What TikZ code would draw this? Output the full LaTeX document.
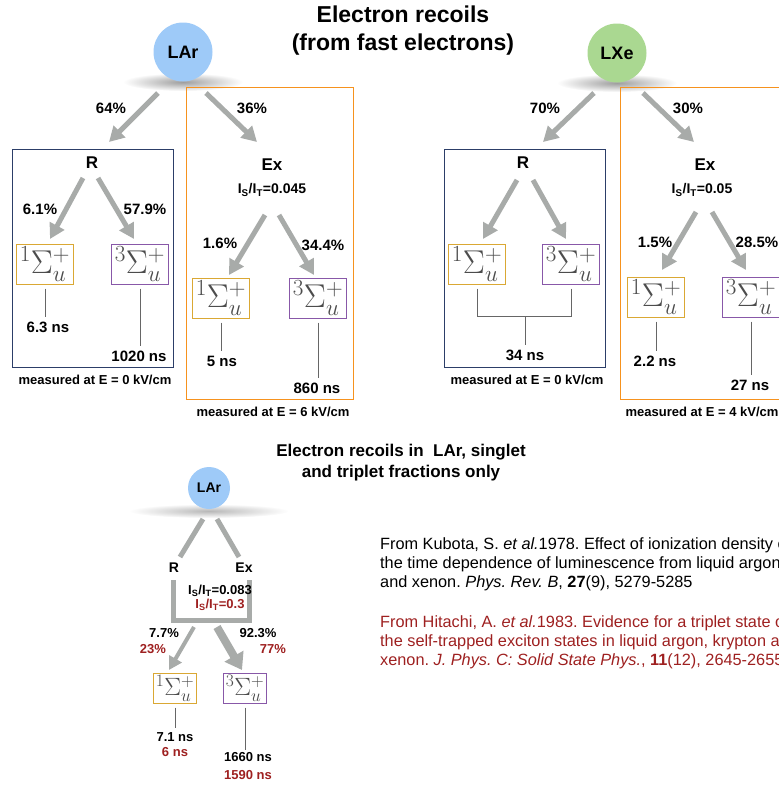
\RequirePackage{fix-cm}
\documentclass[tikz,border=0pt]{standalone}
\usepackage{fontspec}
\setmainfont{Liberation Sans}
\usetikzlibrary{arrows.meta}

\definecolor{larblue}{RGB}{158,202,248}
\definecolor{lxegreen}{RGB}{170,216,145}
\definecolor{arrgrey}{RGB}{168,171,169}
\definecolor{rnavy}{RGB}{44,62,104}
\definecolor{exorange}{RGB}{246,146,30}
\definecolor{sgold}{RGB}{218,168,52}
\definecolor{tpurple}{RGB}{136,88,168}
\definecolor{hitred}{RGB}{158,32,32}

\newcommand{\fsz}[2]{\fontsize{#1}{#2}\selectfont}
\newcommand{\singl}{${}^1\Sigma_u^+$}
\newcommand{\tripl}{${}^3\Sigma_u^+$}
\newcommand{\isit}{I\textsubscript{S}/I\textsubscript{T}}

\begin{document}
\begin{tikzpicture}[
		x=1pt, y=-1pt,
		bub/.style={circle, inner sep=0pt, minimum size=#1, font=\bfseries\fsz{18}{18}},
		shad/.style={inner color=black!38, outer color=white},
		grarr/.style={draw=arrgrey, line width=5pt, -{Triangle[length=15pt,width=16pt]}},
		grbar/.style={draw=arrgrey, line width=5pt},
		rfr/.style={draw=rnavy, line width=1pt},
		exfr/.style={draw=exorange, line width=1pt},
		lvl/.style={draw, line width=1pt, inner sep=0pt, minimum width=57, minimum height=40, text=black!70, font=\fsz{33}{33}},
		sgl/.style={lvl, draw=sgold},
		tpl/.style={lvl, draw=tpurple},
		mini/.style={minimum width=43, minimum height=30, font=\fsz{25}{25}},
		tick/.style={draw=black!60, line width=0.8pt, shorten <=4pt, shorten >=1pt},
		hdr/.style={font=\bfseries\fsz{17}{17}},
		pct/.style={font=\bfseries\fsz{15}{15}},
		rat/.style={font=\bfseries\fsz{14}{14}},
		ns/.style={font=\bfseries\fsz{15}{15}},
		meas/.style={font=\bfseries\fsz{13}{13}},
		sm/.style={font=\bfseries\fsz{13}{13}},
		ref/.style={anchor=north west, inner sep=0pt, align=left, font=\fsz{16.3}{19}\frenchspacing},
		]

		\useasboundingbox (0,0) rectangle (779,785);
		\clip (0,0) rectangle (779,785);

		\node[font=\bfseries\fsz{23}{28}, align=center] (ttl) at (403,31) {Electron recoils\\(from fast electrons)};

		% ---- LAr ----
		\shade[shad] (183,82) ellipse [x radius=60pt, y radius=9pt];
		\node[bub=59, fill=larblue] (lar) at (183,52) {LAr};
		\coordinate (lar-r0) at (158,93);  \coordinate (lar-r1) at (109,142);
		\coordinate (lar-e0) at (206,93);  \coordinate (lar-e1) at (257,142);
		\draw[grarr] (lar-r0) -- (lar-r1);
		\draw[grarr] (lar-e0) -- (lar-e1);
		\node[pct] (lar-pr) at (111,108) {64\%};
		\node[pct] (lar-pe) at (252,108) {36\%};

		% recombination
		\draw[rfr] (12,149) rectangle (173,367);
		\node[hdr] (lr) at (92,163) {R};
		\coordinate (lr-s0) at (83,178);  \coordinate (lr-s1) at (50,239);
		\coordinate (lr-t0) at (98,178);  \coordinate (lr-t1) at (134,239);
		\draw[grarr] (lr-s0) -- (lr-s1);
		\draw[grarr] (lr-t0) -- (lr-t1);
		\node[pct] (lr-ps) at (40,209) {6.1\%};
		\node[pct] (lr-pt) at (145,209) {57.9\%};
		\node[sgl] (lr-s) at (45,264) {\singl};
		\node[tpl] (lr-t) at (140,264) {\tripl};
		\node[ns] (lr-sn) at (48,327) {6.3 ns};
		\node[ns] (lr-tn) at (139,356) {1020 ns};
		\draw[tick] (lr-s.south) -- (lr-s.south |- lr-sn.north);
		\draw[tick] (lr-t.south) -- (lr-t.south |- lr-tn.north);
		\node[meas] (lr-m) at (95,380) {measured at E = 0 kV/cm};

		% excitation
		\draw[exfr] (186,87) rectangle (353,399);
		\node[hdr] (le) at (272,165) {Ex};
		\node[rat] (le-r) at (272,190) {\isit=0.045};
		\coordinate (le-s0) at (265,215);  \coordinate (le-s1) at (229,275);
		\coordinate (le-t0) at (279,215);  \coordinate (le-t1) at (314,275);
		\draw[grarr] (le-s0) -- (le-s1);
		\draw[grarr] (le-t0) -- (le-t1);
		\node[pct] (le-ps) at (220,243) {1.6\%};
		\node[pct] (le-pt) at (323,245) {34.4\%};
		\node[sgl] (le-s) at (221,298) {\singl};
		\node[tpl] (le-t) at (318,298) {\tripl};
		\node[ns] (le-sn) at (222,361) {5 ns};
		\node[ns] (le-tn) at (317,388) {860 ns};
		\draw[tick] (le-s.south) -- (le-s.south |- le-sn.north);
		\draw[tick] (le-t.south) -- (le-t.south |- le-tn.north);
		\node[meas] (le-m) at (273,412) {measured at E = 6 kV/cm};

		% ---- LXe ----
		\shade[shad] (617,83) ellipse [x radius=60pt, y radius=9pt];
		\node[bub=59, fill=lxegreen] (lxe) at (617,53) {LXe};
		\coordinate (lxe-r0) at (594,93);  \coordinate (lxe-r1) at (543,142);
		\coordinate (lxe-e0) at (643,93);  \coordinate (lxe-e1) at (694,142);
		\draw[grarr] (lxe-r0) -- (lxe-r1);
		\draw[grarr] (lxe-e0) -- (lxe-e1);
		\node[pct] (lxe-pr) at (545,108) {70\%};
		\node[pct] (lxe-pe) at (688,108) {30\%};

		% recombination
		\draw[rfr] (444,149) rectangle (605,367);
		\node[hdr] (xr) at (523,163) {R};
		\coordinate (xr-s0) at (517,180);  \coordinate (xr-s1) at (483,239);
		\coordinate (xr-t0) at (533,180);  \coordinate (xr-t1) at (566,239);
		\draw[grarr] (xr-s0) -- (xr-s1);
		\draw[grarr] (xr-t0) -- (xr-t1);
		\node[sgl] (xr-s) at (477,264) {\singl};
		\node[tpl] (xr-t) at (571,264) {\tripl};
		\node[ns] (xr-n) at (525,355) {34 ns};
		\coordinate (xr-j) at (525,316);
		\draw[tick, shorten >=0pt] (xr-s.south) |- (xr-j);
		\draw[tick, shorten >=0pt] (xr-t.south) |- (xr-j);
		\draw[tick, shorten <=0pt] (xr-j) -- (xr-n.north);
		\node[meas] (xr-m) at (527,380) {measured at E = 0 kV/cm};

		% excitation
		\draw[exfr] (620,87) rectangle (800,399);
		\node[hdr] (xe) at (705,165) {Ex};
		\node[rat] (xe-r) at (702,190) {\isit=0.05};
		\coordinate (xe-s0) at (696,212);  \coordinate (xe-s1) at (662,270);
		\coordinate (xe-t0) at (712,212);  \coordinate (xe-t1) at (746,270);
		\draw[grarr] (xe-s0) -- (xe-s1);
		\draw[grarr] (xe-t0) -- (xe-t1);
		\node[pct] (xe-ps) at (655,242) {1.5\%};
		\node[pct] (xe-pt) at (757,242) {28.5\%};
		\node[sgl] (xe-s) at (656,297) {\singl};
		\node[tpl] (xe-t) at (751,297) {\tripl};
		\node[ns] (xe-sn) at (655,361) {2.2 ns};
		\node[ns] (xe-tn) at (750,385) {27 ns};
		\draw[tick] (xe-s.south) -- (xe-s.south |- xe-sn.north);
		\draw[tick] (xe-t.south) -- (xe-t.south |- xe-tn.north);
		\node[meas] (xe-m) at (702,412) {measured at E = 4 kV/cm};

		% ---- LAr, singlet/triplet only ----
		\node[font=\bfseries\fsz{17}{21}, align=center] (ttl2) at (401,463) {Electron recoils in~ LAr, singlet\\and triplet fractions only};
		\shade[shad, inner color=black!28] (209,511) ellipse [x radius=80pt, y radius=7pt];
		\node[bub=42, fill=larblue, font=\bfseries\fsz{14}{14}] (blar) at (209,488) {LAr};
		\coordinate (bl-r0) at (203,519);  \coordinate (bl-r1) at (180,557);
		\coordinate (bl-e0) at (217,519);  \coordinate (bl-e1) at (239,557);
		\draw[grbar] (bl-r0) -- (bl-r1);
		\draw[grbar] (bl-e0) -- (bl-e1);
		\node[font=\bfseries\fsz{14}{14}] (bl-r) at (174,568) {R};
		\node[font=\bfseries\fsz{14}{14}] (bl-e) at (244,568) {Ex};
		\coordinate (bu-l) at (173,580);  \coordinate (bu-r) at (249,580);
		\draw[grbar] (bu-l) -- ++(0,40) -| (bu-r);
		\node[sm] (bl-q1) at (220,591) {\isit=0.083};
		\node[sm, text=hitred] (bl-q2) at (220,605) {\isit=0.3};
		\coordinate (bl-s0) at (194,627);  \coordinate (bl-s1) at (169,670);
		\coordinate (bl-t0) at (217,627);  \coordinate (bl-t1) at (242,670);
		\draw[grarr, line width=4pt, -{Triangle[length=13pt,width=14pt]}] (bl-s0) -- (bl-s1);
		\draw[grarr, line width=8pt, -{Triangle[length=16pt,width=21pt]}] (bl-t0) -- (bl-t1);
		\node[sm] (bl-ps) at (164,633) {7.7\%};
		\node[sm, text=hitred] (bl-ps2) at (153,649) {23\%};
		\node[sm] (bl-pt) at (258,633) {92.3\%};
		\node[sm, text=hitred] (bl-pt2) at (273,649) {77\%};
		\node[sgl, mini] (bl-s) at (175,688) {\singl};
		\node[tpl, mini] (bl-t) at (245,688) {\tripl};
		\node[sm] (bl-sn) at (175,737) {7.1 ns};
		\node[sm, text=hitred] (bl-sn2) at (175,752) {6 ns};
		\node[sm] (bl-tn) at (248,757) {1660 ns};
		\node[sm, text=hitred] (bl-tn2) at (248,775) {1590 ns};
		\draw[tick] (bl-s.south) -- (bl-s.south |- bl-sn.north);
		\draw[tick] (bl-t.south) -- ([yshift=-2pt]bl-t.south |- bl-tn.north);

		% references
		\node[ref] (kub) at (380,537.5)
			{From Kubota, S. \textit{et al.}1978. Effect of ionization density on\\
			 the time dependence of luminescence from liquid argon\\
			 and xenon. \textit{Phys. Rev. B}, \textbf{27}(9), 5279-5285};
		\node[ref, text=hitred] (hit) at (380,615)
			{From Hitachi, A. \textit{et al.}1983. Evidence for a triplet state of\\
			 the self-trapped exciton states in liquid argon, krypton and\\
			 xenon. \textit{J. Phys. C: Solid State Phys.}, \textbf{11}(12), 2645-2655};
\end{tikzpicture}
\end{document}
